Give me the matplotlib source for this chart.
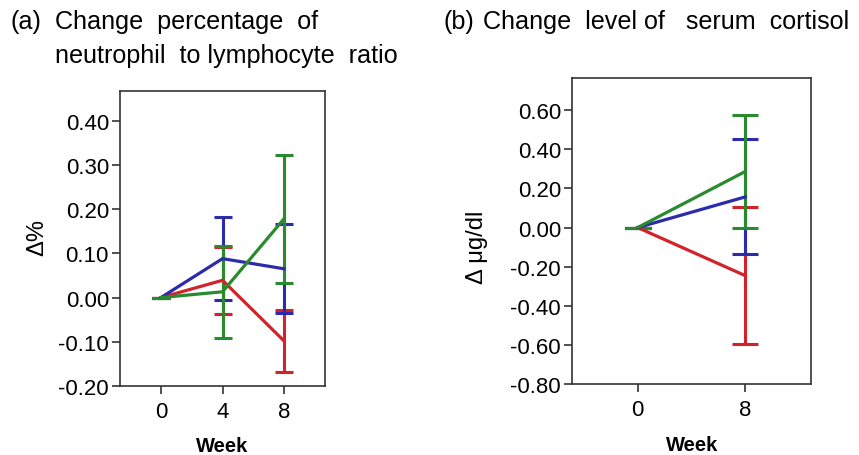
import matplotlib
matplotlib.use("Agg")
import matplotlib.pyplot as plt

plt.rcParams['font.family'] = ['Liberation Sans', 'DejaVu Sans']

# Panel (a): change percentage of NLR
weeks_a = ["0", "4", "8"]
blue_a = [0.0, 0.088, 0.065]
blue_a_err = [0.0, 0.094, 0.101]
red_a = [0.0, 0.039, -0.098]
red_a_err = [0.0, 0.076, 0.070]
green_a = [0.0, 0.013, 0.178]
green_a_err = [0.0, 0.104, 0.145]
yticks_a = [-0.2, -0.1, 0.0, 0.1, 0.2, 0.3, 0.4]

# Panel (b): change level of serum cortisol
weeks_b = ["0", "8"]
blue_b = [0.0, 0.157]
blue_b_err = [0.0, 0.294]
red_b = [0.0, -0.246]
red_b_err = [0.0, 0.350]
green_b = [0.0, 0.287]
green_b_err = [0.0, 0.290]
yticks_b = [-0.8, -0.6, -0.4, -0.2, 0.0, 0.2, 0.4, 0.6]

BLUE = "#2b2bab"
RED = "#d2232b"
GREEN = "#2a8a2e"

W, H = 859, 456
fig = plt.figure(figsize=(W / 100, H / 100), dpi=100)

def px_axes(l, t, r, b):
    return fig.add_axes([l / W, 1 - b / H, (r - l) / W, (b - t) / H])

ax1 = px_axes(120, 92, 325, 387)
ax2 = px_axes(572, 79, 811, 385)

def draw(ax, labels, series, cap, margin):
    x = list(range(len(labels)))
    for vals, errs, col in series:
        ax.errorbar(x, vals, yerr=errs, color=col, lw=2.3, elinewidth=2.2,
                    capsize=cap, capthick=2.2)
    ax.set_xticks(x)
    ax.set_xticklabels(labels)
    ax.set_xlim(-margin, len(labels) - 1 + margin)
    for s in ax.spines.values():
        s.set_linewidth(1.2)
        s.set_color("#333333")
    ax.tick_params(axis='both', direction='out', length=6, width=1.2,
                   labelsize=16, color="#333333", pad=2)
    ax.tick_params(axis='x', pad=5)

draw(ax1, weeks_a, [(red_a, red_a_err, RED), (blue_a, blue_a_err, BLUE),
                    (green_a, green_a_err, GREEN)], 6.8, 0.667)
ax1.set_ylim(-0.2, 0.467)
ax1.set_yticks(yticks_a)
ax1.set_yticklabels([f"{v:.2f}" for v in yticks_a])

draw(ax2, weeks_b, [(red_b, red_b_err, RED), (blue_b, blue_b_err, BLUE),
                    (green_b, green_b_err, GREEN)], 9.4, 0.61)
ax2.set_ylim(-0.8, 0.765)
ax2.set_yticks(yticks_b)
ax2.set_yticklabels([f"{v:.2f}" for v in yticks_b])

def ftext(x, y, s, **kw):
    return fig.text(x / W, 1 - y / H, s, **kw)

ftext(37, 238, "Δ%", fontsize=17, rotation=90, ha='center', va='center')
ftext(477, 247, "Δ μg/dl", fontsize=17, rotation=90, ha='center', va='center')
ftext(222, 447, "Week", fontsize=14.5, fontweight='bold', ha='center', va='center')
ftext(692, 446, "Week", fontsize=14.5, fontweight='bold', ha='center', va='center')

ftext(10, 29, "(a)", fontsize=18.1, va='baseline', ha='left')
ftext(55, 29, "Change  percentage  of", fontsize=18.1, va='baseline', ha='left')
ftext(55, 63, "neutrophil  to lymphocyte  ratio", fontsize=18.1, va='baseline', ha='left')
ftext(443, 29, "(b)", fontsize=18.1, va='baseline', ha='left')
ftext(483, 29, "Change  level of   serum  cortisol", fontsize=18.1, va='baseline', ha='left')

fig.savefig("out.png", dpi=100)
